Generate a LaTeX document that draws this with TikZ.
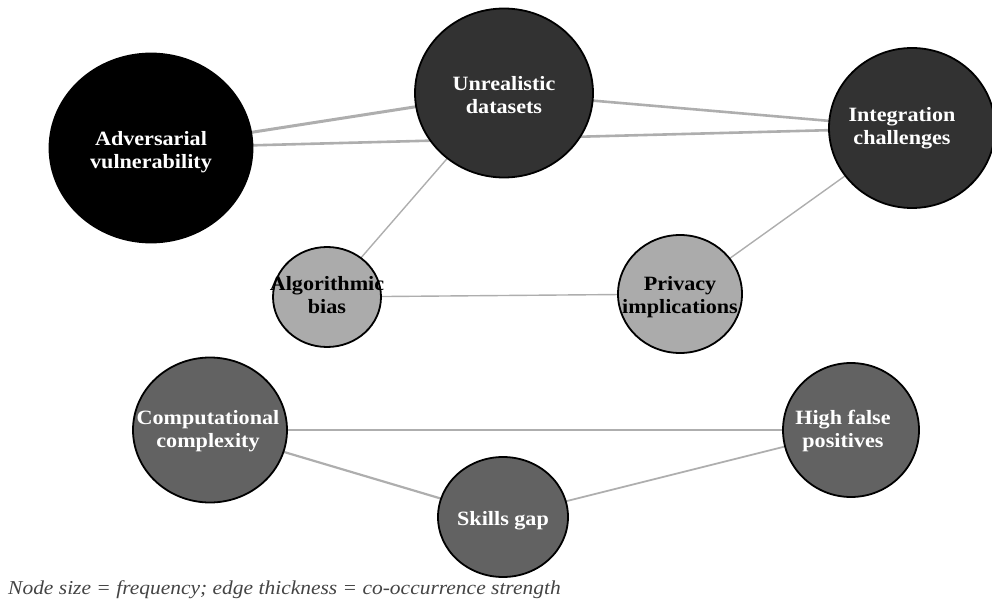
\documentclass[tikz,border=0pt]{standalone}
\usepackage{fontspec}
\setmainfont[FakeStretch=1.09]{Liberation Serif}
\usetikzlibrary{shapes.geometric,backgrounds}
\definecolor{cblack}{HTML}{000000}
\definecolor{cdark}{HTML}{323232}
\definecolor{cmid}{HTML}{626262}
\definecolor{clight}{HTML}{ABABAB}
\definecolor{cedge}{HTML}{AEAEAE}
\definecolor{ccap}{HTML}{444444}
\tikzset{
  ball/.style={ellipse, draw=black, line width=1.8pt, inner sep=0pt},
  lbl/.style={align=center, font=\fontsize{20.3}{23}\selectfont\bfseries, inner sep=0pt},
  edge/.style={draw=cedge, line cap=butt},
}
\begin{document}
\begin{tikzpicture}[x=1pt,y=-1pt]
\useasboundingbox (0,0) rectangle (992,601);
% circles
\node[ball, fill=cblack, minimum width=203pt, minimum height=189pt] (adv) at (151,148) {};
\node[ball, fill=cdark, minimum width=178pt, minimum height=169pt] (unr) at (504,93) {};
\node[ball, fill=cdark, minimum width=166pt, minimum height=160pt] (int) at (912,128) {};
\node[ball, fill=clight, minimum width=108pt, minimum height=100pt] (alg) at (327,297) {};
\node[ball, fill=clight, minimum width=124pt, minimum height=118pt] (pri) at (680,294) {};
\node[ball, fill=cmid, minimum width=154pt, minimum height=145pt] (com) at (210,430) {};
\node[ball, fill=cmid, minimum width=136pt, minimum height=134pt] (hfp) at (851,430) {};
\node[ball, fill=cmid, minimum width=130pt, minimum height=120pt] (ski) at (503,517) {};
% edges behind circles
\begin{scope}[on background layer]
\draw[edge, line width=3pt] (adv.center) -- (unr.center);
\draw[edge, line width=2.6pt] (adv.center) -- (int.center);
\draw[edge, line width=2.6pt] (unr.center) -- (int.center);
\draw[edge, line width=1.4pt] (unr.center) -- (alg.center);
\draw[edge, line width=1.4pt] (alg.center) -- (pri.center);
\draw[edge, line width=1.4pt] (pri.center) -- (int.center);
\draw[edge, line width=2.6pt] (com.center) -- (hfp.center);
\draw[edge, line width=2.2pt] (com.center) -- (ski.center);
\draw[edge, line width=1.8pt] (ski.center) -- (hfp.center);
\end{scope}
% labels
\node[lbl, text=white] (advt) at ([yshift=-4pt]adv) {Adversarial\\vulnerability};
\node[lbl, text=white] (unrt) at ([yshift=-2pt]unr) {Unrealistic\\datasets};
\node[lbl, text=white] (intt) at ([xshift=-10pt]int) {Integration\\challenges};
\node[lbl, text=black] (algt) at ([yshift=2pt]alg) {Algorithmic\\bias};
\node[lbl, text=black] (prit) at ([yshift=-3pt]pri) {Privacy\\implications};
\node[lbl, text=white] (comt) at ([xshift=-2pt,yshift=-1pt]com) {Computational\\complexity};
\node[lbl, text=white] (hfpt) at ([xshift=-8pt,yshift=-1.5pt]hfp) {High false\\positives};
\node[lbl, text=white] (skit) at ([yshift=-4pt]ski) {Skills gap};
% caption
\node[anchor=south west, inner sep=0pt, text=ccap, font=\fontsize{19.7}{23}\selectfont\itshape] (cap) at (8,599) {Node size = frequency; edge thickness = co-occurrence strength};
\end{tikzpicture}
\end{document}
